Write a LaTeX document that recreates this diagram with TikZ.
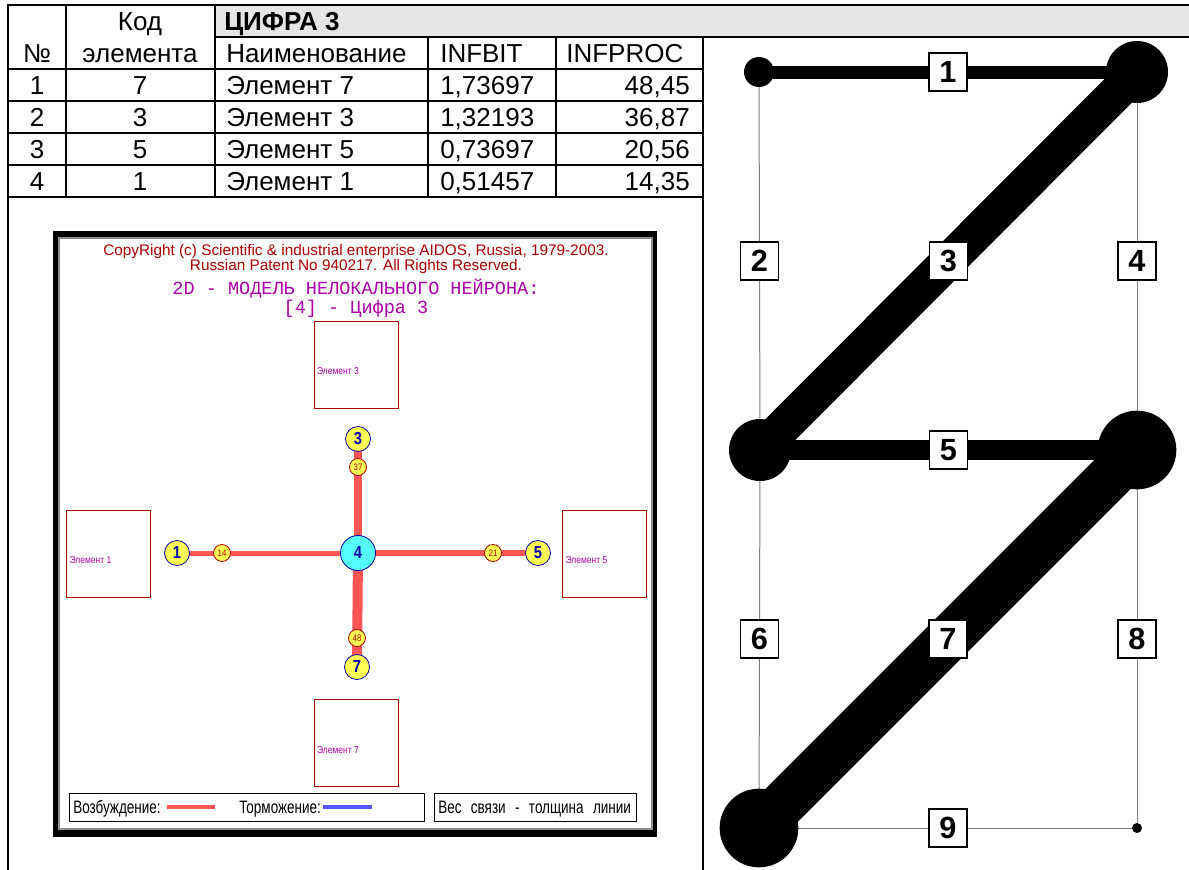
\documentclass[tikz,border=0pt]{standalone}
\usepackage{fontspec}
\setmainfont{Liberation Sans}
\newfontfamily\aidossans[FakeStretch=0.85]{Liberation Sans}
\newfontfamily\aidosnarrow[FakeStretch=0.75, WordSpace=2.5]{Liberation Sans}
\newfontfamily\aidosmono{Liberation Mono}
\usetikzlibrary{positioning,backgrounds}
\definecolor{TabGrey}{RGB}{230,230,230}
\definecolor{DigGrey}{RGB}{128,128,128}
\definecolor{AidosRed}{RGB}{170,0,0}
\definecolor{AidosMagenta}{RGB}{170,0,170}
\definecolor{AidosPink}{RGB}{255,85,85}
\definecolor{AidosYellow}{RGB}{255,255,85}
\definecolor{AidosCyan}{RGB}{85,255,255}
\definecolor{AidosBlue}{RGB}{0,0,170}
\definecolor{AidosSky}{RGB}{85,85,255}
\definecolor{AidosFrame}{RGB}{140,140,140}
\tikzset{
  tab rule/.style={line width=1.5pt, draw=black, line cap=rect},
  tab text/.style={inner sep=0pt, anchor=base, font=\fontsize{19.5}{22}\selectfont},
  tab left/.style={tab text, anchor=base west},
  tab right/.style={tab text, anchor=base east},
  dig thin/.style={line width=0.75pt, draw=DigGrey},
  dig bar/.style={line width=#1, draw=black, line cap=butt},
  dig vertex/.style={circle, fill=black, inner sep=0pt, minimum size=#1},
  dig label/.style={draw=black, fill=white, text=black, line width=0.9pt,
    minimum size=28.5pt, inner sep=0pt, font=\fontsize{23}{24}\selectfont\bfseries},
  neu box/.style={draw=AidosRed, line width=0.75pt, minimum width=63pt,
    minimum height=65.25pt, inner sep=0pt},
  neu name/.style={anchor=base west, inner sep=0pt, text=AidosMagenta,
    font=\aidossans\fontsize{7.5}{8}\selectfont},
  neu head/.style={anchor=base, inner sep=0pt, text=AidosRed,
    font=\fontsize{11.5}{12}\selectfont},
  neu title/.style={anchor=base, inner sep=0pt, text=AidosMagenta,
    font=\aidosmono\fontsize{13.9}{15}\selectfont},
  neu elem/.style={circle, draw=AidosBlue, fill=AidosYellow, line width=0.6pt,
    inner sep=0pt, minimum size=#1, text=AidosBlue,
    font=\aidossans\fontsize{13}{13}\selectfont\bfseries},
  neu elem/.default=18.75pt,
  neu center/.style={neu elem=26.25pt, fill=AidosCyan},
  neu weight/.style={circle, draw=AidosRed, fill=AidosYellow, line width=0.6pt,
    inner sep=0pt, minimum size=12.75pt, text=AidosRed,
    font=\aidossans\fontsize{7}{7}\selectfont},
  neu link/.style={line width=#1, draw=AidosPink, line cap=butt},
  neu legend/.style={draw=black, line width=0.75pt, minimum height=21pt, inner sep=0pt},
  neu text/.style={anchor=base west, inner sep=0pt, font=\aidosnarrow\fontsize{13.5}{14}\selectfont}
}

\begin{document}
\begin{tikzpicture}[x=0.75pt, y=-0.75pt]
\useasboundingbox (0,0) rectangle (1189,869);
% table
\fill[TabGrey] (215,5) rectangle (1189,37);
\draw[tab rule] (8,5) -- (1189,5);
\draw[tab rule] (215,37) -- (1189,37);
\foreach \y in {69,101,133,165,197}
  \draw[tab rule] (8,\y) -- (703,\y);
\draw[tab rule] (8,5) -- (8,869);
\foreach \x in {66,215}
  \draw[tab rule] (\x,5) -- (\x,197);
\foreach \x in {428,556}
  \draw[tab rule] (\x,37) -- (\x,197);
\draw[tab rule] (703,37) -- (703,869);
\node[tab text] (hcode) at (140,30) {Код};
\node[tab text] (hcodeb) at (140,62) {элемента};
\node[tab text] (hnum) at (37,62) {№};
\node[tab left, font=\fontsize{19.5}{22}\selectfont\bfseries] (hdigit) at (224,30) {ЦИФРА 3};
\node[tab left] (hname) at (226,62) {Наименование};
\node[tab left] (hbit) at (440,62) {INFBIT};
\node[tab left] (hproc) at (566,62) {INFPROC};
\foreach \code/\bit/\proc [count=\n] in {7/{1,73697}/{48,45}, 3/{1,32193}/{36,87},
    5/{0,73697}/{20,56}, 1/{0,51457}/{14,35}}{
  \node[tab text] (num\n) at (37,{62+32*\n}) {\n};
  \node[tab text] (code\n) at (140,{62+32*\n}) {\code};
  \node[tab left] (name\n) at (226,{62+32*\n}) {Элемент \code};
  \node[tab left] (bit\n) at (440,{62+32*\n}) {\bit};
  \node[tab right] (proc\n) at (690,{62+32*\n}) {\proc};
}

% digit graph
\node[dig vertex=22.5pt] (d1) at (759,72) {};
\node[dig vertex=46.5pt] (d2) at (1137,72) {};
\node[dig vertex=46.5pt] (d3) at (760,450) {};
\node[dig vertex=59pt] (d4) at (1137,450) {};
\node[dig vertex=59pt] (d5) at (759,828) {};
\node[dig vertex=7.5pt] (d6) at (1137,828) {};
\begin{scope}[on background layer]
  \draw[dig thin] (d1.center) -- node[dig label] (l2) {2} (d3.center);
  \draw[dig thin] (d2.center) -- node[dig label] (l4) {4} (d4.center);
  \draw[dig thin] (d3.center) -- node[dig label] (l6) {6} (d5.center);
  \draw[dig thin] (d4.center) -- node[dig label] (l8) {8} (d6.center);
  \draw[dig thin] (d5.center) -- node[dig label] (l9) {9} (d6.center);
  \draw[dig bar=9.75pt] (d1.center) -- node[dig label] (l1) {1} (d2.center);
  \draw[dig bar=15pt] (d3.center) -- node[dig label] (l5) {5} (d4.center);
  \draw[dig bar=27pt] (d2.center) -- node[dig label] (l3) {3} (d3.center);
  \draw[dig bar=34.5pt] (d4.center) -- node[dig label] (l7) {7} (d5.center);
\end{scope}

% neuron window
\node[neu head] (copy1) at (356,255) {CopyRight (c) Scientific \& industrial enterprise AIDOS, Russia, 1979-2003.};
\node[neu head] (copy2) at (356,270) {Russian Patent No 940217. All Rights Reserved.};
\node[neu title] (title1) at (356,294) {2D - МОДЕЛЬ НЕЛОКАЛЬНОГО НЕЙРОНА:};
\node[neu title] (title2) at (356,313) {[4] - Цифра 3};
\node[neu box] (box3) at (356,364.5) {};
\node[neu box] (box1) at (108.5,553.5) {};
\node[neu box] (box5) at (604.5,553.5) {};
\node[neu box] (box7) at (356,743) {};
\foreach \b in {3,1,5,7}
  \node[neu name] (lbl\b) at ([xshift=2.5pt,yshift=-7.5pt]box\b.west) {Элемент \b};
\node[neu center] (n4) at (358,553) {4};
\node[neu elem] (n3) at (358,439) {3};
\node[neu elem] (n1) at (177,553) {1};
\node[neu elem] (n5) at (538,553) {5};
\node[neu elem] (n7) at (357,667) {7};
\node[neu weight] (w3) at (358,467) {37};
\node[neu weight] (w1) at (222,553) {14};
\node[neu weight] (w5) at (493,553) {21};
\node[neu weight] (w7) at (357,638) {48};
\begin{scope}[on background layer]
  \fill[black] (53,231) rectangle (657,837);
  \fill[AidosFrame] (58,237) rectangle (653,830);
  \fill[white] (60,239) rectangle (651,828);
  \draw[neu link=5.6pt] (n4.center) -- (n3.center);
  \draw[neu link=3.75pt] (n4.center) -- (n1.center);
  \draw[neu link=4.9pt] (n4.center) -- (n5.center);
  \draw[neu link=7.5pt] (n4.center) -- (n7.center);
\end{scope}
% legend
\node[neu legend, minimum width=266.25pt] (leg1) at (246.5,807) {};
\node[neu legend, minimum width=151.5pt] (leg2) at (535,807) {};
\node[neu text] (exc) at (73,813) {Возбуждение:};
\node[neu text] (inh) at (239,813) {Торможение:};
\node[neu text] (wgt) at (438,813) {Вес связи - толщина линии};
\coordinate (exca) at (167,807);
\coordinate (excb) at (215,807);
\coordinate (inha) at (323,807);
\coordinate (inhb) at (372,807);
\draw[neu link=3.5pt] (exca) -- (excb);
\draw[neu link=3.5pt, draw=AidosSky] (inha) -- (inhb);
\end{tikzpicture}
\end{document}
